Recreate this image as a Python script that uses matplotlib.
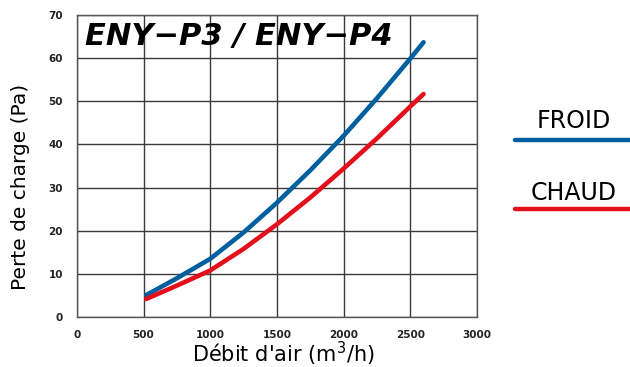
import numpy as np
import matplotlib
matplotlib.use('Agg')
import matplotlib.pyplot as plt
from matplotlib.lines import Line2D

# values
debit = [520, 750, 1000, 1250, 1500, 1750, 2000, 2250, 2500, 2600]
froid = [5.1, 9.0, 13.5, 19.6, 26.5, 34.0, 42.0, 50.7, 59.9, 63.7]
chaud = [4.2, 7.3, 10.8, 15.8, 21.5, 27.7, 34.4, 41.4, 48.8, 51.7]

xticks = [0, 500, 1000, 1500, 2000, 2500, 3000]
yticks = [0, 10, 20, 30, 40, 50, 60, 70]

blue = '#005f9e'
red = '#e3101c'

fig = plt.figure(figsize=(6.3, 3.67), dpi=100)
ax = fig.add_axes([0.122, 0.136, 0.635, 0.823])

ax.plot(debit, froid, color=blue, lw=3.3, solid_capstyle='round', solid_joinstyle='round')
ax.plot(debit, chaud, color=red, lw=3.3, solid_capstyle='round', solid_joinstyle='round')

ax.set_xlim(0, 3000)
ax.set_ylim(0, 70)
ax.set_xticks(xticks)
ax.set_yticks(yticks)
ax.grid(True, color='#3a3a3a', lw=1.0)
ax.set_axisbelow(True)
for s in ax.spines.values():
    s.set_color('#555555')
    s.set_linewidth(1.0)
ax.tick_params(length=0, labelsize=7.5, colors='#222222')
ax.tick_params(axis='x', pad=9.5)
ax.tick_params(axis='y', pad=10)
for lab in ax.get_xticklabels() + ax.get_yticklabels():
    lab.set_fontweight('bold')

# axis titles placed where the reference has them
fig.text(283 / 630, 1 - 362 / 367, "Débit d'air (m$^3$/h)", fontsize=15,
         ha='center', va='baseline')
fig.text(21 / 630, 1 - 187 / 367, "Perte de charge (Pa)", fontsize=14.5,
         rotation=90, ha='center', va='center')

ax.text(0.02, 0.93, "ENY\u2212P3 / ENY\u2212P4", transform=ax.transAxes,
        fontsize=22, fontweight='bold', fontstyle='italic', va='center', ha='left')

# legend on the right
fig.text(574 / 630, 1 - 121.5 / 367, "FROID", fontsize=17, ha='center', va='center')
fig.add_artist(Line2D([515 / 630, 1.0], [1 - 140 / 367] * 2, color=blue, lw=3.2,
                      solid_capstyle='round', transform=fig.transFigure))
fig.text(574 / 630, 1 - 192.5 / 367, "CHAUD", fontsize=17, ha='center', va='center')
fig.add_artist(Line2D([515 / 630, 1.0], [1 - 208.5 / 367] * 2, color=red, lw=3.2,
                      solid_capstyle='round', transform=fig.transFigure))

fig.savefig('out.png', dpi=100)
